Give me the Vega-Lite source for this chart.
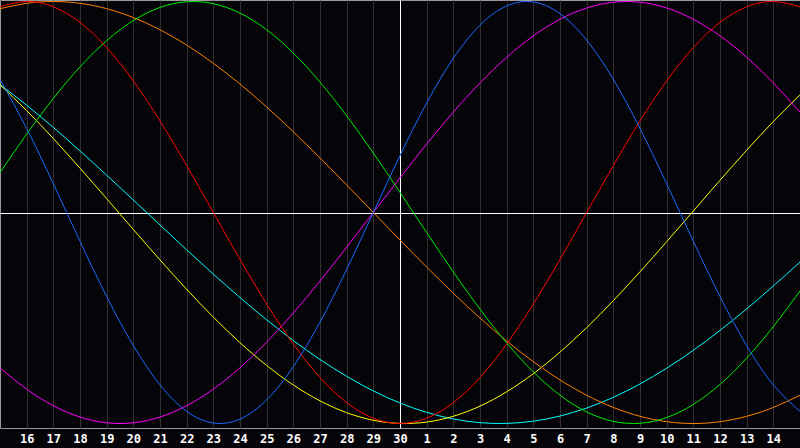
{
  "width": 800,
  "height": 428,
  "autosize": {"type": "none"},
  "padding": {"left": 0, "top": 0, "right": 0, "bottom": 20},
  "background": "#050408",
  "data": {"values": [
    {"r": "spiritual", "t": 0, "v": 0.6067}, {"r": "spiritual", "t": 1, "v": 0.5085}, {"r": "spiritual", "t": 2, "v": 0.4031}, {"r": "spiritual", "t": 3, "v": 0.2920}, {"r": "spiritual", "t": 4, "v": 0.1769}, {"r": "spiritual", "t": 5, "v": 0.0592}, {"r": "spiritual", "t": 6, "v": -0.0592}, {"r": "spiritual", "t": 7, "v": -0.1769}, {"r": "spiritual", "t": 8, "v": -0.2920}, {"r": "spiritual", "t": 9, "v": -0.4031}, {"r": "spiritual", "t": 10, "v": -0.5085}, {"r": "spiritual", "t": 11, "v": -0.6067}, {"r": "spiritual", "t": 12, "v": -0.6965}, {"r": "spiritual", "t": 13, "v": -0.7765}, {"r": "spiritual", "t": 14, "v": -0.8456}, {"r": "spiritual", "t": 15, "v": -0.9028}, {"r": "spiritual", "t": 16, "v": -0.9473}, {"r": "spiritual", "t": 17, "v": -0.9786}, {"r": "spiritual", "t": 18, "v": -0.9961}, {"r": "spiritual", "t": 19, "v": -0.9996}, {"r": "spiritual", "t": 20, "v": -0.9890}, {"r": "spiritual", "t": 21, "v": -0.9646}, {"r": "spiritual", "t": 22, "v": -0.9267}, {"r": "spiritual", "t": 23, "v": -0.8758}, {"r": "spiritual", "t": 24, "v": -0.8125}, {"r": "spiritual", "t": 25, "v": -0.7380}, {"r": "spiritual", "t": 26, "v": -0.6529}, {"r": "spiritual", "t": 27, "v": -0.5586}, {"r": "spiritual", "t": 28, "v": -0.4567}, {"r": "spiritual", "t": 29, "v": -0.3482}, {"r": "spiritual", "t": 30, "v": -0.2349},
    {"r": "aesthetic", "t": 0, "v": 0.6055}, {"r": "aesthetic", "t": 1, "v": 0.4830}, {"r": "aesthetic", "t": 2, "v": 0.3504}, {"r": "aesthetic", "t": 3, "v": 0.2103}, {"r": "aesthetic", "t": 4, "v": 0.0657}, {"r": "aesthetic", "t": 5, "v": -0.0803}, {"r": "aesthetic", "t": 6, "v": -0.2246}, {"r": "aesthetic", "t": 7, "v": -0.3641}, {"r": "aesthetic", "t": 8, "v": -0.4958}, {"r": "aesthetic", "t": 9, "v": -0.6168}, {"r": "aesthetic", "t": 10, "v": -0.7250}, {"r": "aesthetic", "t": 11, "v": -0.8175}, {"r": "aesthetic", "t": 12, "v": -0.8927}, {"r": "aesthetic", "t": 13, "v": -0.9488}, {"r": "aesthetic", "t": 14, "v": -0.9847}, {"r": "aesthetic", "t": 15, "v": -0.9996}, {"r": "aesthetic", "t": 16, "v": -0.9932}, {"r": "aesthetic", "t": 17, "v": -0.9656}, {"r": "aesthetic", "t": 18, "v": -0.9175}, {"r": "aesthetic", "t": 19, "v": -0.8497}, {"r": "aesthetic", "t": 20, "v": -0.7640}, {"r": "aesthetic", "t": 21, "v": -0.6616}, {"r": "aesthetic", "t": 22, "v": -0.5456}, {"r": "aesthetic", "t": 23, "v": -0.4178}, {"r": "aesthetic", "t": 24, "v": -0.2811}, {"r": "aesthetic", "t": 25, "v": -0.1384}, {"r": "aesthetic", "t": 26, "v": 0.0073}, {"r": "aesthetic", "t": 27, "v": 0.1528}, {"r": "aesthetic", "t": 28, "v": 0.2951}, {"r": "aesthetic", "t": 29, "v": 0.4311}, {"r": "aesthetic", "t": 30, "v": 0.5578},
    {"r": "awareness", "t": 0, "v": 0.9659}, {"r": "awareness", "t": 1, "v": 0.9914}, {"r": "awareness", "t": 2, "v": 1}, {"r": "awareness", "t": 3, "v": 0.9914}, {"r": "awareness", "t": 4, "v": 0.9659}, {"r": "awareness", "t": 5, "v": 0.9239}, {"r": "awareness", "t": 6, "v": 0.8660}, {"r": "awareness", "t": 7, "v": 0.7934}, {"r": "awareness", "t": 8, "v": 0.7071}, {"r": "awareness", "t": 9, "v": 0.6088}, {"r": "awareness", "t": 10, "v": 0.5}, {"r": "awareness", "t": 11, "v": 0.3827}, {"r": "awareness", "t": 12, "v": 0.2588}, {"r": "awareness", "t": 13, "v": 0.1305}, {"r": "awareness", "t": 14, "v": 0}, {"r": "awareness", "t": 15, "v": -0.1305}, {"r": "awareness", "t": 16, "v": -0.2588}, {"r": "awareness", "t": 17, "v": -0.3827}, {"r": "awareness", "t": 18, "v": -0.5}, {"r": "awareness", "t": 19, "v": -0.6088}, {"r": "awareness", "t": 20, "v": -0.7071}, {"r": "awareness", "t": 21, "v": -0.7934}, {"r": "awareness", "t": 22, "v": -0.8660}, {"r": "awareness", "t": 23, "v": -0.9239}, {"r": "awareness", "t": 24, "v": -0.9659}, {"r": "awareness", "t": 25, "v": -0.9914}, {"r": "awareness", "t": 26, "v": -1}, {"r": "awareness", "t": 27, "v": -0.9914}, {"r": "awareness", "t": 28, "v": -0.9659}, {"r": "awareness", "t": 29, "v": -0.9239}, {"r": "awareness", "t": 30, "v": -0.8660},
    {"r": "intuitive", "t": 0, "v": -0.7357}, {"r": "intuitive", "t": 1, "v": -0.8372}, {"r": "intuitive", "t": 2, "v": -0.9158}, {"r": "intuitive", "t": 3, "v": -0.9694}, {"r": "intuitive", "t": 4, "v": -0.9966}, {"r": "intuitive", "t": 5, "v": -0.9966}, {"r": "intuitive", "t": 6, "v": -0.9694}, {"r": "intuitive", "t": 7, "v": -0.9158}, {"r": "intuitive", "t": 8, "v": -0.8372}, {"r": "intuitive", "t": 9, "v": -0.7357}, {"r": "intuitive", "t": 10, "v": -0.6142}, {"r": "intuitive", "t": 11, "v": -0.4759}, {"r": "intuitive", "t": 12, "v": -0.3247}, {"r": "intuitive", "t": 13, "v": -0.1646}, {"r": "intuitive", "t": 14, "v": 0}, {"r": "intuitive", "t": 15, "v": 0.1646}, {"r": "intuitive", "t": 16, "v": 0.3247}, {"r": "intuitive", "t": 17, "v": 0.4759}, {"r": "intuitive", "t": 18, "v": 0.6142}, {"r": "intuitive", "t": 19, "v": 0.7357}, {"r": "intuitive", "t": 20, "v": 0.8372}, {"r": "intuitive", "t": 21, "v": 0.9158}, {"r": "intuitive", "t": 22, "v": 0.9694}, {"r": "intuitive", "t": 23, "v": 0.9966}, {"r": "intuitive", "t": 24, "v": 0.9966}, {"r": "intuitive", "t": 25, "v": 0.9694}, {"r": "intuitive", "t": 26, "v": 0.9158}, {"r": "intuitive", "t": 27, "v": 0.8372}, {"r": "intuitive", "t": 28, "v": 0.7357}, {"r": "intuitive", "t": 29, "v": 0.6142}, {"r": "intuitive", "t": 30, "v": 0.4759},
    {"r": "intellectual", "t": 0, "v": 0.1893}, {"r": "intellectual", "t": 1, "v": 0.3717}, {"r": "intellectual", "t": 2, "v": 0.5406}, {"r": "intellectual", "t": 3, "v": 0.6901}, {"r": "intellectual", "t": 4, "v": 0.8146}, {"r": "intellectual", "t": 5, "v": 0.9096}, {"r": "intellectual", "t": 6, "v": 0.9718}, {"r": "intellectual", "t": 7, "v": 0.9989}, {"r": "intellectual", "t": 8, "v": 0.9898}, {"r": "intellectual", "t": 9, "v": 0.9450}, {"r": "intellectual", "t": 10, "v": 0.8660}, {"r": "intellectual", "t": 11, "v": 0.7557}, {"r": "intellectual", "t": 12, "v": 0.6182}, {"r": "intellectual", "t": 13, "v": 0.4582}, {"r": "intellectual", "t": 14, "v": 0.2817}, {"r": "intellectual", "t": 15, "v": 0.0951}, {"r": "intellectual", "t": 16, "v": -0.0951}, {"r": "intellectual", "t": 17, "v": -0.2817}, {"r": "intellectual", "t": 18, "v": -0.4582}, {"r": "intellectual", "t": 19, "v": -0.6182}, {"r": "intellectual", "t": 20, "v": -0.7557}, {"r": "intellectual", "t": 21, "v": -0.8660}, {"r": "intellectual", "t": 22, "v": -0.9450}, {"r": "intellectual", "t": 23, "v": -0.9898}, {"r": "intellectual", "t": 24, "v": -0.9989}, {"r": "intellectual", "t": 25, "v": -0.9718}, {"r": "intellectual", "t": 26, "v": -0.9096}, {"r": "intellectual", "t": 27, "v": -0.8146}, {"r": "intellectual", "t": 28, "v": -0.6901}, {"r": "intellectual", "t": 29, "v": -0.5406}, {"r": "intellectual", "t": 30, "v": -0.3717},
    {"r": "emotional", "t": 0, "v": 0.9749}, {"r": "emotional", "t": 1, "v": 1}, {"r": "emotional", "t": 2, "v": 0.9749}, {"r": "emotional", "t": 3, "v": 0.9010}, {"r": "emotional", "t": 4, "v": 0.7818}, {"r": "emotional", "t": 5, "v": 0.6235}, {"r": "emotional", "t": 6, "v": 0.4339}, {"r": "emotional", "t": 7, "v": 0.2225}, {"r": "emotional", "t": 8, "v": 0}, {"r": "emotional", "t": 9, "v": -0.2225}, {"r": "emotional", "t": 10, "v": -0.4339}, {"r": "emotional", "t": 11, "v": -0.6235}, {"r": "emotional", "t": 12, "v": -0.7818}, {"r": "emotional", "t": 13, "v": -0.9010}, {"r": "emotional", "t": 14, "v": -0.9749}, {"r": "emotional", "t": 15, "v": -1}, {"r": "emotional", "t": 16, "v": -0.9749}, {"r": "emotional", "t": 17, "v": -0.9010}, {"r": "emotional", "t": 18, "v": -0.7818}, {"r": "emotional", "t": 19, "v": -0.6235}, {"r": "emotional", "t": 20, "v": -0.4339}, {"r": "emotional", "t": 21, "v": -0.2225}, {"r": "emotional", "t": 22, "v": 0}, {"r": "emotional", "t": 23, "v": 0.2225}, {"r": "emotional", "t": 24, "v": 0.4339}, {"r": "emotional", "t": 25, "v": 0.6235}, {"r": "emotional", "t": 26, "v": 0.7818}, {"r": "emotional", "t": 27, "v": 0.9010}, {"r": "emotional", "t": 28, "v": 0.9749}, {"r": "emotional", "t": 29, "v": 1}, {"r": "emotional", "t": 30, "v": 0.9749},
    {"r": "physical", "t": 0, "v": 0.6311}, {"r": "physical", "t": 1, "v": 0.3984}, {"r": "physical", "t": 2, "v": 0.1362}, {"r": "physical", "t": 3, "v": -0.1362}, {"r": "physical", "t": 4, "v": -0.3984}, {"r": "physical", "t": 5, "v": -0.6311}, {"r": "physical", "t": 6, "v": -0.8170}, {"r": "physical", "t": 7, "v": -0.9423}, {"r": "physical", "t": 8, "v": -0.9977}, {"r": "physical", "t": 9, "v": -0.9791}, {"r": "physical", "t": 10, "v": -0.8879}, {"r": "physical", "t": 11, "v": -0.7308}, {"r": "physical", "t": 12, "v": -0.5196}, {"r": "physical", "t": 13, "v": -0.2698}, {"r": "physical", "t": 14, "v": 0}, {"r": "physical", "t": 15, "v": 0.2698}, {"r": "physical", "t": 16, "v": 0.5196}, {"r": "physical", "t": 17, "v": 0.7308}, {"r": "physical", "t": 18, "v": 0.8879}, {"r": "physical", "t": 19, "v": 0.9791}, {"r": "physical", "t": 20, "v": 0.9977}, {"r": "physical", "t": 21, "v": 0.9423}, {"r": "physical", "t": 22, "v": 0.8170}, {"r": "physical", "t": 23, "v": 0.6311}, {"r": "physical", "t": 24, "v": 0.3984}, {"r": "physical", "t": 25, "v": 0.1362}, {"r": "physical", "t": 26, "v": -0.1362}, {"r": "physical", "t": 27, "v": -0.3984}, {"r": "physical", "t": 28, "v": -0.6311}, {"r": "physical", "t": 29, "v": -0.8170}, {"r": "physical", "t": 30, "v": -0.9423}
  ]},
  "mark": {"type": "line", "strokeWidth": 1, "interpolate": "natural"},
  "encoding": {
    "x": {
      "field": "t",
      "type": "quantitative",
      "scale": {"domain": [0, 30], "nice": false, "zero": false},
      "axis": {
        "values": [1, 2, 3, 4, 5, 6, 7, 8, 9, 10, 11, 12, 13, 14, 15, 16, 17, 18, 19, 20, 21, 22, 23, 24, 25, 26, 27, 28, 29],
        "labelExpr": "datum.value <= 15 ? datum.value + 15 : datum.value - 15",
        "grid": true,
        "gridColor": {"condition": {"test": "datum.value === 15", "value": "#ffffff"}, "value": "#303030"},
        "domain": false,
        "ticks": false,
        "labelColor": "#ffffff",
        "labelFont": "DejaVu Sans Mono",
        "labelFontWeight": "bold",
        "labelFontSize": 12,
        "labelPadding": 5,
        "labelFlush": false,
        "title": null
      }
    },
    "y": {
      "field": "v",
      "type": "quantitative",
      "scale": {"domain": [-1.0213, 1.0071], "nice": false, "zero": false},
      "axis": {
        "values": [0],
        "grid": true,
        "gridColor": "#ffffff",
        "labels": false,
        "domain": false,
        "ticks": false,
        "title": null
      }
    },
    "color": {
      "field": "r",
      "type": "nominal",
      "scale": {
        "domain": ["physical", "emotional", "intellectual", "intuitive", "aesthetic", "awareness", "spiritual"],
        "range": ["#1a6cff", "#ff0000", "#00ee00", "#ff00ff", "#ffff00", "#ff8000", "#00ffff"]
      },
      "legend": null
    }
  },
  "config": {"view": {"stroke": "#9a9a9a", "strokeWidth": 1}}
}
